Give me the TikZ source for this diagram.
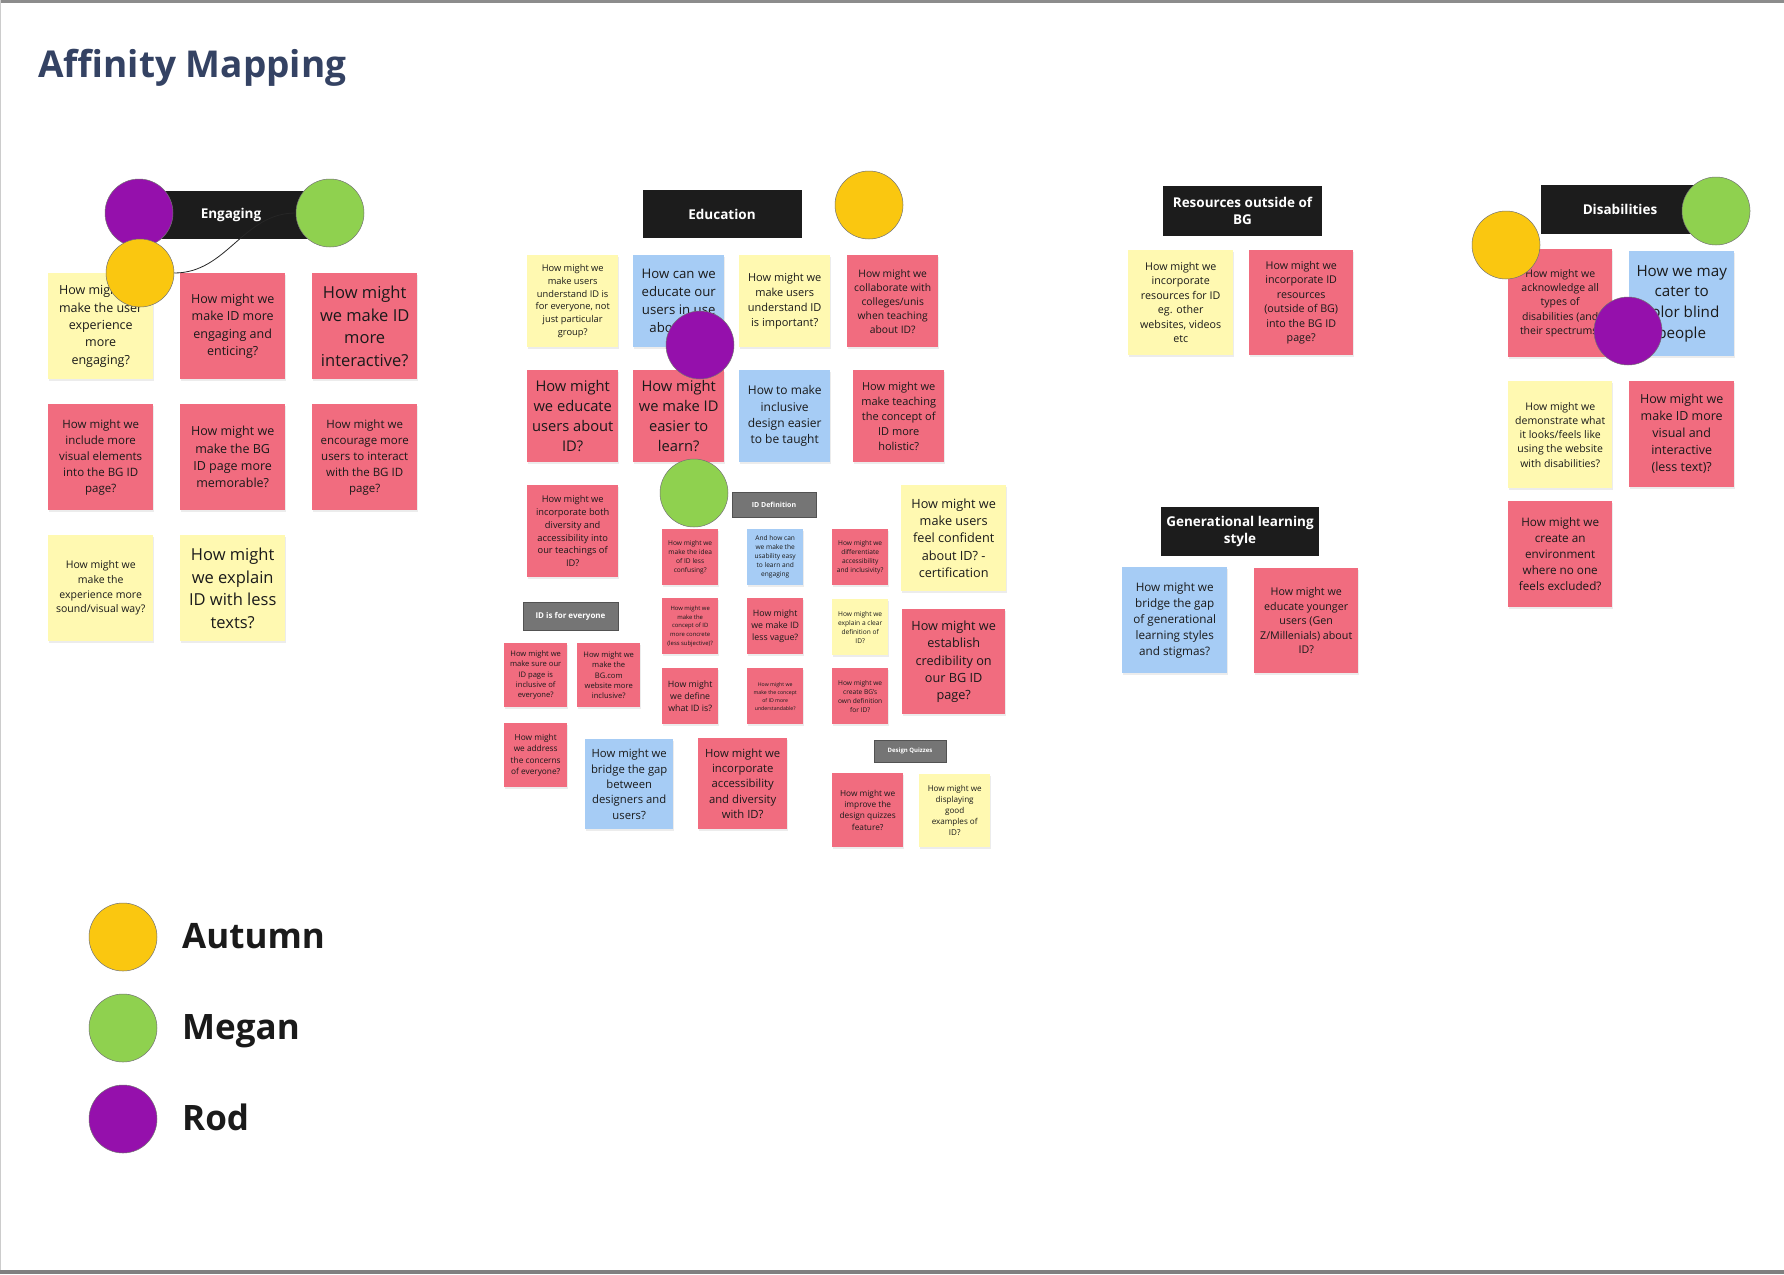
\documentclass[tikz,border=0pt]{standalone}
\usepackage{fontspec}
\setmainfont{Open Sans}
\usepackage{xcolor}
\definecolor{notepink}{RGB}{241, 108, 127}
\definecolor{noteyellow}{RGB}{255, 249, 177}
\definecolor{noteblue}{RGB}{166, 204, 245}
\definecolor{headblack}{RGB}{28, 28, 28}
\definecolor{headgray}{RGB}{117, 117, 117}
\definecolor{dotyellow}{RGB}{250, 199, 16}
\definecolor{dotgreen}{RGB}{143, 209, 79}
\definecolor{dotpurple}{RGB}{149, 16, 172}
\definecolor{titleblue}{RGB}{52, 66, 99}
\definecolor{textdark}{RGB}{26, 26, 26}
\usetikzlibrary{shadows}
\newcommand{\notesize}[2]{\fontsize{#1}{#2}\selectfont}

\tikzset{
    sticky/.style={anchor=north west, align=center, inner sep=0pt, text=textdark,
        drop shadow={shadow xshift=0.5pt, shadow yshift=-1.5pt, opacity=0.15}},
    pinkn/.style={sticky, fill=notepink},
    yellown/.style={sticky, fill=noteyellow},
    bluen/.style={sticky, fill=noteblue},
    notebig/.style={minimum width=105pt, minimum height=106pt},
    notemid/.style={minimum width=91pt, minimum height=92pt},
    notesmall/.style={minimum width=63pt, minimum height=64pt},
    notetiny/.style={minimum width=56pt, minimum height=56pt},
    header/.style={fill=headblack, text=white, font=\bfseries\notesize{13.5}{17}, align=center,
        minimum width=159pt, minimum height=48pt, inner sep=0pt},
    subheader/.style={fill=headgray, draw=headgray!70!black, line width=0.6pt, text=white, inner sep=0pt},
    dot/.style={circle, draw=black!55, line width=0.5pt, minimum size=68pt, inner sep=0pt},
    legendtext/.style={anchor=base west, inner sep=0pt, text=textdark, font=\bfseries\notesize{35}{40}},
}

\begin{document}
\begin{tikzpicture}[x=1pt, y=-1pt]
    \useasboundingbox (0,0) rectangle (1784,1274);
    \fill[white] (0,0) rectangle (1784,1274);
    \fill[black!45] (0,0) rectangle (1784,2.5);
    \fill[black!20] (0,0) rectangle (1,1274);
    \fill[black!50] (0,1270) rectangle (1784,1274);

    \node[anchor=base west, inner sep=0pt, text=titleblue, font=\bfseries\notesize{37}{40}] (title) at (38,77) {Affinity Mapping};

    % Engaging
    \node[header] (enghead) at (231,215) {Engaging};
    \node[yellown, notebig, font=\notesize{12.5}{17.3}] (eng1) at (48,273) {How might we\\make the user\\experience\\more\\engaging?};
    \node[pinkn, notebig, font=\notesize{12.5}{17.3}] (eng2) at (180,273) {How might we\\make ID more\\engaging and\\enticing?};
    \node[pinkn, notebig, font=\notesize{16.5}{22.7}] (eng3) at (312,273) {How might\\we make ID\\more\\interactive?};
    \node[pinkn, notebig, font=\notesize{11.5}{16}] (eng4) at (48,404) {How might we\\include more\\visual elements\\into the BG ID\\page?};
    \node[pinkn, notebig, font=\notesize{12.5}{17.3}] (eng5) at (180,404) {How might we\\make the BG\\ID page more\\memorable?};
    \node[pinkn, notebig, font=\notesize{11.5}{16}] (eng6) at (312,404) {How might we\\encourage more\\users to interact\\with the BG ID\\page?};
    \node[yellown, notebig, font=\notesize{10.5}{14.7}] (eng7) at (48,535) {How might we\\make the\\experience more\\sound/visual way?};
    \node[yellown, notebig, font=\notesize{16.5}{22.7}] (eng8) at (180,535) {How might\\we explain\\ID with less\\texts?};

    % Education
    \node[header] (eduhead) at (722,214) {Education};
    \node[yellown, notemid, font=\notesize{9.3}{12.7}] (edu1) at (527,255) {How might we\\make users\\understand ID is\\for everyone, not\\just particular\\group?};
    \node[bluen, notemid, font=\notesize{13.2}{18}] (edu2) at (633,255) {How can we\\educate our\\users in use\\about ID?};
    \node[yellown, notemid, font=\notesize{11}{15}] (edu3) at (739,255) {How might we\\make users\\understand ID\\is important?};
    \node[pinkn, notemid, font=\notesize{10.3}{14}] (edu4) at (847,255) {How might we\\collaborate with\\colleges/unis\\when teaching\\about ID?};
    \node[pinkn, notemid, font=\notesize{14.7}{20}] (edu5) at (527,370) {How might\\we educate\\users about\\ID?};
    \node[pinkn, notemid, font=\notesize{14.7}{20}] (edu6) at (633,370) {How might\\we make ID\\easier to\\learn?};
    \node[bluen, notemid, font=\notesize{12}{16.3}] (edu7) at (739,370) {How to make\\inclusive\\design easier\\to be taught};
    \node[pinkn, notemid, font=\notesize{11}{15}] (edu8) at (853,370) {How might we\\make teaching\\the concept of\\ID more\\holistic?};
    \node[pinkn, notemid, font=\notesize{9.3}{12.7}] (edu9) at (527,485) {How might we\\incorporate both\\diversity and\\accessibility into\\our teachings of\\ID?};
    \node[yellown, notebig, font=\notesize{12.7}{17.3}] (edu10) at (901,485) {How might we\\make users\\feel confident\\about ID? -\\certification};
    \node[pinkn, notebig, minimum width=103pt, minimum height=105pt, font=\notesize{12.7}{17.3}] (edu11) at (902,609) {How might we\\establish\\credibility on\\our BG ID\\page?};

    \node[subheader, minimum width=95pt, minimum height=28pt, font=\bfseries\notesize{8}{10}] (forall) at (570.5,616) {ID is for everyone};
    \node[pinkn, notesmall, font=\notesize{7.6}{10.3}] (all1) at (504,643) {How might we\\make sure our\\ID page is\\inclusive of\\everyone?};
    \node[pinkn, notesmall, font=\notesize{7.6}{10.3}] (all2) at (577,643) {How might we\\make the\\BG.com\\website more\\inclusive?};
    \node[pinkn, notesmall, font=\notesize{8.3}{11.3}] (all3) at (504,723) {How might\\we address\\the concerns\\of everyone?};
    \node[bluen, minimum width=88pt, minimum height=90pt, font=\notesize{11.3}{15.3}] (all4) at (585,739) {How might we\\bridge the gap\\between\\designers and\\users?};
    \node[pinkn, minimum width=89pt, minimum height=91pt, font=\notesize{11.3}{15.3}] (all5) at (698,738) {How might we\\incorporate\\accessibility\\and diversity\\with ID?};

    \node[subheader, minimum width=84pt, minimum height=25pt, font=\bfseries\notesize{7}{9}] (defhead) at (774,504.5) {ID Definition};
    \node[pinkn, notetiny, font=\notesize{6.6}{9}] (def1) at (662,529) {How might we\\make the idea\\of ID less\\confusing?};
    \node[bluen, notetiny, font=\notesize{6.6}{9}] (def2) at (747,529) {And how can\\we make the\\usability easy\\to learn and\\engaging};
    \node[pinkn, notetiny, font=\notesize{6.6}{9}] (def3) at (832,529) {How might we\\differentiate\\accessibility\\and inclusivity?};
    \node[pinkn, notetiny, font=\notesize{5.9}{8.7}] (def4) at (662,598) {How might we\\make the\\concept of ID\\more concrete\\(less subjective)?};
    \node[pinkn, notetiny, font=\notesize{8.8}{12}] (def5) at (747,598) {How might\\we make ID\\less vague?};
    \node[yellown, notetiny, font=\notesize{6.6}{9}] (def6) at (832,599) {How might we\\explain a clear\\definition of\\ID?};
    \node[pinkn, notetiny, font=\notesize{8.8}{12}] (def7) at (662,668) {How might\\we define\\what ID is?};
    \node[pinkn, notetiny, font=\notesize{5.2}{8}] (def8) at (747,668) {How might we\\make the concept\\of ID more\\understandable?};
    \node[pinkn, notetiny, font=\notesize{6.6}{9}] (def9) at (832,668) {How might we\\create BG's\\own definition\\for ID?};

    \node[subheader, minimum width=72pt, minimum height=22pt, font=\bfseries\notesize{6}{8}] (quizhead) at (910,751) {Design Quizzes};
    \node[pinkn, minimum width=71pt, minimum height=74pt, font=\notesize{8.3}{11.3}] (quiz1) at (832,773) {How might we\\improve the\\design quizzes\\feature?};
    \node[yellown, minimum width=71pt, minimum height=73pt, font=\notesize{8.1}{11}] (quiz2) at (919,774) {How might we\\displaying\\good\\examples of\\ID?};

    % Resources outside of BG
    \node[header, minimum height=50pt] (reshead) at (1242.5,211) {Resources outside of\\BG};
    \node[yellown, notebig, minimum height=105pt, font=\notesize{10.7}{14.5}] (res1) at (1128,250) {How might we\\incorporate\\resources for ID\\eg. other\\websites, videos\\etc};
    \node[pinkn, notebig, minimum width=104pt, minimum height=105pt, font=\notesize{10.7}{14.5}] (res2) at (1249,250) {How might we\\incorporate ID\\resources\\(outside of BG)\\into the BG ID\\page?};

    % Generational learning style
    \node[header, minimum width=158pt, minimum height=49pt] (genhead) at (1240,531.5) {Generational learning\\style};
    \node[bluen, notebig, font=\notesize{11.7}{16}] (gen1) at (1122,567) {How might we\\bridge the gap\\of generational\\learning styles\\and stigmas?};
    \node[pinkn, notebig, minimum width=104pt, minimum height=105pt, font=\notesize{10.7}{14.5}] (gen2) at (1254,568) {How might we\\educate younger\\users (Gen\\Z/Millenials) about\\ID?};

    % Disabilities
    \node[header, minimum width=158pt, minimum height=49pt] (dishead) at (1620,209.5) {Disabilities};
    \node[pinkn, notebig, minimum width=104pt, minimum height=108pt, font=\notesize{10.5}{14.3}] (dis1) at (1508,249) {How might we\\acknowledge all\\types of\\disabilities (and\\their spectrums)};
    \node[bluen, notebig, minimum height=105pt, font=\notesize{15.2}{20.7}] (dis2) at (1629,251) {How we may\\cater to\\color blind\\people};
    \node[yellown, notebig, minimum width=104pt, minimum height=107pt, font=\notesize{10.5}{14.3}] (dis3) at (1508,381) {How might we\\demonstrate what\\it looks/feels like\\using the website\\with disabilities?};
    \node[pinkn, notebig, font=\notesize{12.5}{17}] (dis4) at (1629,381) {How might we\\make ID more\\visual and\\interactive\\(less text)?};
    \node[pinkn, notebig, minimum width=104pt, font=\notesize{11.7}{16}] (dis5) at (1508,501) {How might we\\create an\\environment\\where no one\\feels excluded?};

    % votes
    \node[dot, fill=dotpurple] (rod1) at (139,213) {};
    \node[dot, fill=dotgreen] (meg1) at (330,213) {};
    \node[dot, fill=dotyellow] (aut1) at (140,273) {};
    \draw[line width=0.8pt, black!85] (aut1.east) to[out=0, in=180] (meg1.west);
    \node[dot, fill=dotyellow] (aut2) at (869,205) {};
    \node[dot, fill=dotpurple] (rod2) at (700,345) {};
    \node[dot, fill=dotgreen] (meg2) at (694,493) {};
    \node[dot, fill=dotgreen] (meg3) at (1716,211) {};
    \node[dot, fill=dotyellow] (aut3) at (1506,245) {};
    \node[dot, fill=dotpurple] (rod3) at (1628,331) {};

    % legend
    \node[dot, fill=dotyellow] (autkey) at (123,937) {};
    \node[dot, fill=dotgreen] (megkey) at (123,1028) {};
    \node[dot, fill=dotpurple] (rodkey) at (123,1119) {};
    \node[legendtext] (autname) at (182,948) {Autumn};
    \node[legendtext] (megname) at (182,1039) {Megan};
    \node[legendtext] (rodname) at (182,1130) {Rod};
\end{tikzpicture}
\end{document}
